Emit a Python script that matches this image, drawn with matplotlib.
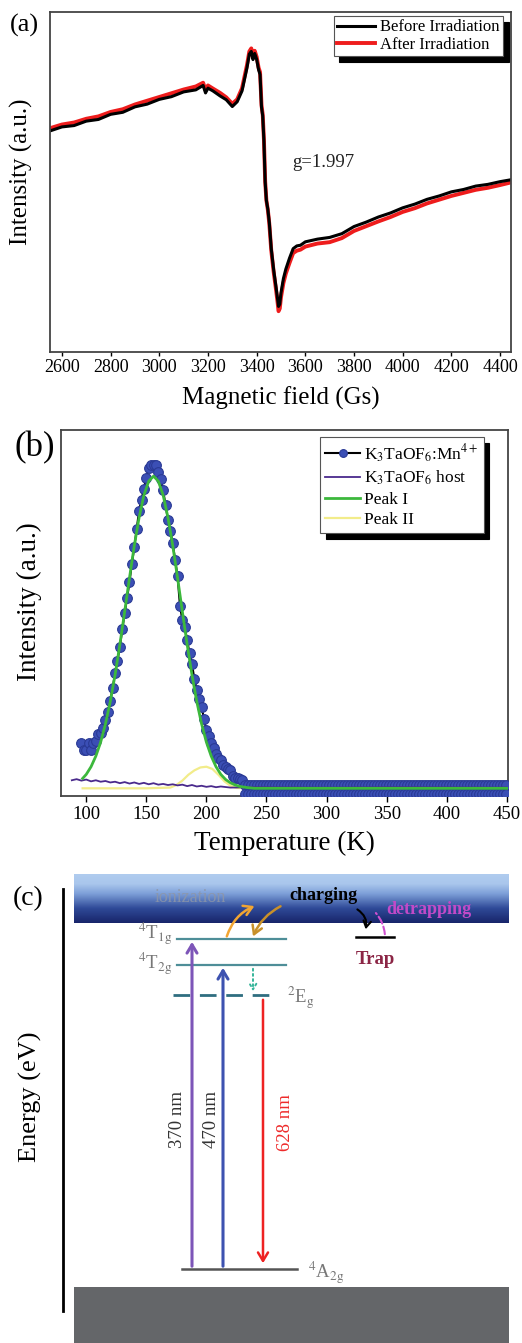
import numpy as np
import matplotlib
matplotlib.use('Agg')
import matplotlib.pyplot as plt
from matplotlib.colors import LinearSegmentedColormap
from matplotlib.patches import FancyArrowPatch, Rectangle

plt.rcParams['font.family'] = ['Liberation Serif', 'DejaVu Serif']
plt.rcParams['mathtext.fontset'] = 'stix'

# ---------------- (a) EPR spectra ----------------
field = [2550, 2600, 2650, 2700, 2750, 2800, 2850, 2900, 2950, 3000, 3050, 3100,
         3150, 3180, 3190, 3200, 3220, 3250, 3275, 3300, 3320, 3340, 3360, 3370, 3378,
         3385, 3392, 3400, 3408, 3414, 3420, 3425, 3430, 3435, 3440, 3446, 3452,
         3460, 3470, 3480, 3486, 3490, 3495, 3500, 3510, 3520, 3535, 3550, 3565,
         3580, 3600, 3650, 3700, 3750, 3800, 3850, 3900, 3950, 4000, 4050, 4100,
         4150, 4200, 4250, 4300, 4350, 4400, 4440]
before = [65.0, 66.2, 66.6, 67.9, 68.4, 69.9, 70.5, 72.1, 72.9, 74.3, 75.1, 76.5,
          77.1, 78.4, 76.2, 77.6, 76.8, 75.3, 74.2, 72.2, 73.6, 76.8, 83.5, 87.6, 88.4,
          86.0, 87.8, 86.1, 83.0, 81.6, 72.0, 69.4, 62.0, 50.0, 44.6, 42.0, 38.1,
          30.4, 24.1, 18.9, 15.6, 13.4, 14.1, 17.4, 21.6, 24.4, 27.6, 30.4, 31.2,
          31.4, 32.4, 33.2, 33.7, 34.8, 36.9, 38.2, 39.7, 40.9, 42.4, 43.5, 44.9,
          45.9, 47.1, 47.8, 48.8, 49.3, 50.1, 50.6]
after = [65.8, 66.9, 67.5, 68.6, 69.3, 70.6, 71.4, 72.8, 73.9, 75.0, 76.1, 77.2,
         78.1, 79.2, 77.0, 78.4, 77.5, 76.2, 74.9, 73.0, 74.3, 77.6, 84.3, 88.4, 89.3,
         86.8, 88.6, 86.8, 83.6, 82.3, 72.6, 69.8, 62.3, 50.2, 44.6, 41.8, 37.7,
         29.9, 23.5, 18.1, 14.6, 12.0, 12.8, 16.1, 20.3, 23.1, 26.2, 29.1, 29.8,
         30.1, 31.0, 31.9, 32.3, 33.5, 35.6, 37.0, 38.4, 39.7, 41.2, 42.3, 43.7,
         44.8, 45.9, 46.8, 47.7, 48.3, 49.1, 49.8]
xticks_a = [2600, 2800, 3000, 3200, 3400, 3600, 3800, 4000, 4200, 4400]

# ---------------- (b) thermoluminescence ----------------
T_pts = [96, 98, 100, 102, 104, 106, 108, 110, 112, 114, 116, 118, 120, 122, 124,
         126, 128, 130, 132, 134, 136, 138, 140, 142, 144, 146, 148, 150, 152, 154,
         156, 158, 160, 162, 164, 166, 168, 170, 172, 174, 176, 178, 180, 182, 184,
         186, 188, 190, 192, 194, 196, 198, 200, 202, 204, 206, 208, 210, 212, 214,
         216, 218, 220, 222, 224, 226, 228, 230]
I_pts = [14.6, 12.6, 12.6, 14.6, 12.6, 14.6, 15.0, 17.0, 17.2, 18.5, 20.8, 23.0,
         26.0, 29.5, 33.5, 37.0, 40.8, 45.5, 50.0, 54.0, 58.5, 63.5, 68.0, 73.0,
         78.0, 81.0, 84.0, 87.0, 89.5, 90.4, 90.4, 90.4, 88.5, 86.5, 83.5, 79.5,
         75.5, 72.5, 69.0, 64.5, 60.0, 52.0, 48.0, 46.3, 42.5, 39.0, 36.0, 32.0,
         29.0, 26.5, 24.4, 21.0, 18.0, 16.5, 14.5, 13.0, 11.5, 10.5, 9.8, 8.5,
         7.8, 7.3, 7.1, 5.5, 4.8, 4.8, 4.6, 4.4]
# flat tail above 230 K: two rows of points
T_tail = np.arange(232, 452, 2.5)
tail_rows = [3.0, 0.5]

T_host = [88, 92, 96, 100, 104, 108, 112, 116, 120, 124, 128, 132, 136, 140, 144,
          148, 152, 156, 160, 164, 168, 172, 176, 180, 184, 188, 192, 196, 200,
          204, 208, 212, 220, 240, 300, 360, 450]
I_host = [4.3, 4.6, 4.2, 4.5, 4.0, 4.3, 3.9, 4.1, 3.7, 3.9, 3.5, 3.8, 3.4, 3.7,
          3.3, 3.6, 3.2, 3.5, 3.1, 3.3, 3.0, 3.2, 2.9, 3.1, 2.7, 3.0, 2.6, 2.8,
          2.5, 2.7, 2.4, 2.6, 2.3, 2.4, 2.3, 2.4, 2.3]

T_p1 = [97, 100, 104, 108, 112, 116, 120, 124, 128, 132, 136, 140, 144, 148, 152,
        156, 160, 164, 168, 172, 176, 180, 184, 188, 192, 196, 200, 204, 208, 212,
        216, 220, 224, 228, 234, 240, 450]
I_p1 = [4.8, 5.9, 8.0, 10.9, 14.7, 19.7, 25.8, 33.1, 41.4, 50.4, 59.6, 68.4, 76.1,
        82.2, 86.0, 87.4, 86.0, 82.2, 76.1, 68.4, 59.6, 50.4, 41.4, 33.1, 25.8,
        19.7, 14.7, 10.9, 8.0, 5.9, 4.5, 3.6, 3.0, 2.6, 2.3, 2.1, 2.1]

T_p2 = [97, 120, 150, 170, 175, 180, 185, 190, 195, 200, 205, 210, 215, 220, 225,
        240, 450]
I_p2 = [2.1, 2.1, 2.1, 2.3, 3.0, 4.2, 5.8, 7.0, 7.8, 8.0, 7.4, 5.8, 4.0, 2.8, 2.2,
        2.1, 2.1]
xticks_b = [100, 150, 200, 250, 300, 350, 400, 450]

# ---------------- (c) energy level diagram ----------------
levels = {'4T1g': 33.0, '4T2g': 30.4, '2Eg': 27.4, '4A2g': 0.0, 'trap': 33.2}
cb_band = (34.6, 39.5)
vb_band = (-7.4, -1.8)

W, H = 522, 1343
fig = plt.figure(figsize=(W / 100, H / 100), dpi=100)

# panel a
ax = fig.add_axes([50 / W, 1 - 352 / H, 461 / W, 340 / H])
ax.plot(field, after, color='#ee1c1c', lw=2.8, label='After Irradiation')
ax.plot(field, before, color='black', lw=2.2, label='Before Irradiation')
ax.set_xlim(2551, 4445)
ax.set_ylim(0, 100)
ax.set_yticks([])
ax.set_xticks(xticks_a)
ax.tick_params(axis='x', labelsize=13, direction='out', length=3, width=1, pad=2)
ax.set_xlabel('Magnetic field (Gs)', fontsize=18, labelpad=8)
ax.set_ylabel('Intensity (a.u.)', fontsize=18)
ax.yaxis.set_label_coords(-0.037, 0.53)
for s in ax.spines.values():
    s.set_color('#444444')
    s.set_linewidth(1.3)
ax.text(3546, 55.6, 'g=1.997', fontsize=13.5, color='#222222', va='center')
h, l = ax.get_legend_handles_labels()
leg = ax.legend(h[::-1], l[::-1], loc='upper right', bbox_to_anchor=(0.983, 0.988),
                borderaxespad=0, fontsize=12, handlelength=2.3, handletextpad=0.3,
                labelspacing=0.1, borderpad=0.2, fancybox=False, edgecolor='#555555',
                framealpha=1,
                shadow={'color': 'black', 'alpha': 1, 'ox': 4, 'oy': -4})
leg.get_frame().set_linewidth(0.8)
fig.text(10 / W, 1 - 25 / H, '(a)', fontsize=19, va='center')

# panel b
bx = fig.add_axes([61 / W, 1 - 796 / H, 447 / W, 366 / H])
mk = dict(marker='o', ms=7, mfc='#3b4fb5', mec='#2a3a95', mew=0.8)
bx.plot(T_pts, I_pts, color='black', lw=1.5, label=r'K$_3$TaOF$_6$:Mn$^{4+}$', **mk, zorder=3)
for r in tail_rows:
    bx.plot(T_tail, np.full(len(T_tail), r), ls='none', **mk, zorder=3)
bx.plot(T_host, I_host, color='#4a2a8c', lw=1.3, label=r'K$_3$TaOF$_6$ host', zorder=4)
bx.plot(T_p1, I_p1, color='#3cb83c', lw=2.0, label='Peak I', zorder=5)
bx.plot(T_p2, I_p2, color='#f2ec8a', lw=1.6, label='Peak II', zorder=2)
bx.set_xlim(79, 451)
bx.set_ylim(0, 100)
bx.set_yticks([])
bx.set_xticks(xticks_b)
bx.tick_params(axis='x', labelsize=13.5, direction='out', length=4, width=1, pad=3)
bx.set_xlabel('Temperature (K)', fontsize=19.5, labelpad=6)
bx.set_ylabel('Intensity (a.u.)', fontsize=19.5)
bx.yaxis.set_label_coords(-0.042, 0.53)
for s in bx.spines.values():
    s.set_color('#444444')
    s.set_linewidth(1.3)
leg2 = bx.legend(loc='upper right', bbox_to_anchor=(0.946, 0.981), borderaxespad=0,
                 fontsize=12.5, handlelength=2.0, handletextpad=0.25, labelspacing=0.25,
                 borderpad=0.3, fancybox=False, edgecolor='#555555', framealpha=1,
                 markerscale=0.8,
                 shadow={'color': 'black', 'alpha': 1, 'ox': 4, 'oy': -4})
leg2.get_frame().set_linewidth(0.8)
fig.text(14 / W, 1 - 448 / H, '(b)', fontsize=25, va='center')

# panel c
cx = fig.add_axes([0, 0, 1, 483 / H])
cx.set_xlim(0, 52.2)
cx.set_ylim(-7.4, 40.9)
cx.axis('off')

cmap = LinearSegmentedColormap.from_list(
    'cb', [(0, '#18256a'), (0.3, '#2f4a98'), (0.6, '#7d9fd8'), (0.8, '#a9c6ec'), (1, '#b0ccef')])
grad = np.linspace(0, 1, 200).reshape(-1, 1)
cx.imshow(grad, extent=[7.4, 50.9, cb_band[0], cb_band[1]], origin='lower',
          cmap=cmap, aspect='auto', zorder=1)
cx.add_patch(Rectangle((7.4, vb_band[0]), 43.5, vb_band[1] - vb_band[0],
                       facecolor='#646669', edgecolor='none', zorder=1))
cx.plot([6.3, 6.3], [-4.2, 38.0], color='black', lw=2)

lvl_col = '#4e8e98'
cx.plot([17.7, 28.6], [levels['4T1g']] * 2, color=lvl_col, lw=1.6)
cx.plot([17.7, 28.6], [levels['4T2g']] * 2, color=lvl_col, lw=1.6)
cx.plot([17.3, 27.7], [levels['2Eg']] * 2, color='#2f6e80', lw=2, dashes=(6, 3.5))
cx.plot([18.2, 29.7], [levels['4A2g']] * 2, color='#555555', lw=1.8)
cx.plot([35.6, 39.4], [levels['trap']] * 2, color='black', lw=1.8)

lab_col = '#777777'
cx.text(17.2, 33.5, r'$^4$T$_{\mathrm{1g}}$', ha='right', va='center', fontsize=13.5, color=lab_col)
cx.text(17.2, 30.5, r'$^4$T$_{\mathrm{2g}}$', ha='right', va='center', fontsize=13.5, color=lab_col)
cx.text(28.7, 27.1, r'$^2$E$_{\mathrm{g}}$', ha='left', va='center', fontsize=13.5, color=lab_col)
cx.text(30.8, -0.4, r'$^4$A$_{\mathrm{2g}}$', ha='left', va='center', fontsize=13.5, color=lab_col)


def arrow(x0, y0, x1, y1, col, lw=2.0, ls='-', rad=0.0, ms=12):
    cx.add_patch(FancyArrowPatch((x0, y0), (x1, y1), arrowstyle='->,head_length=0.5,head_width=0.3',
                                 connectionstyle='arc3,rad=%s' % rad, color=col, lw=lw,
                                 linestyle=ls, mutation_scale=ms, zorder=3))


arrow(19.2, levels['4A2g'], 19.2, levels['4T1g'], '#7d55b8', lw=2.2)
arrow(22.3, levels['4A2g'], 22.3, levels['4T2g'], '#3d52b0', lw=2.2)
arrow(26.3, levels['2Eg'] - 0.2, 26.3, levels['4A2g'] + 0.3, '#ee2222', lw=1.8)
arrow(25.3, levels['4T2g'] - 0.1, 25.3, levels['2Eg'] + 0.1, '#35b59a', lw=1.4, ls=':', ms=8)
arrow(22.6, levels['4T1g'], 25.7, 36.4, '#f2a532', lw=1.8, rad=-0.25)
arrow(28.3, 36.4, 25.2, levels['4T1g'], '#c8902a', lw=1.8, rad=0.2)
arrow(35.5, 36.1, 36.5, 33.7, 'black', lw=1.5, rad=-0.4, ms=9)
cx.add_patch(FancyArrowPatch((38.5, 33.2), (37.4, 35.8), arrowstyle='-',
                             connectionstyle='arc3,rad=0.2', color='#d050d0', lw=1.5,
                             linestyle='--', zorder=3))

cx.text(17.7, 14.9, '370 nm', rotation=90, ha='center', va='center', fontsize=13.5, color='#333333')
cx.text(21.1, 14.9, '470 nm', rotation=90, ha='center', va='center', fontsize=13.5, color='#333333')
cx.text(28.5, 14.6, '628 nm', rotation=90, ha='center', va='center', fontsize=13.5, color='#ee2a2a')

cx.text(19.0, 37.2, 'ionization', ha='center', va='center', fontsize=13, color='#8d96a8', alpha=0.85, zorder=4)
cx.text(32.3, 37.3, 'charging', ha='center', va='center', fontsize=13, fontweight='bold', color='black', zorder=4)
cx.text(42.9, 35.9, 'detrapping', ha='center', va='center', fontsize=13, fontweight='bold', color='#c24ac8', zorder=4)
cx.text(37.5, 31.0, 'Trap', ha='center', va='center', fontsize=13.5, fontweight='bold', color='#8b2545')
cx.text(2.8, 37.0, '(c)', ha='center', va='center', fontsize=20)
cx.text(3.0, 17.2, 'Energy (eV)', rotation=90, ha='center', va='center', fontsize=19)

fig.savefig('out.png', dpi=100)
